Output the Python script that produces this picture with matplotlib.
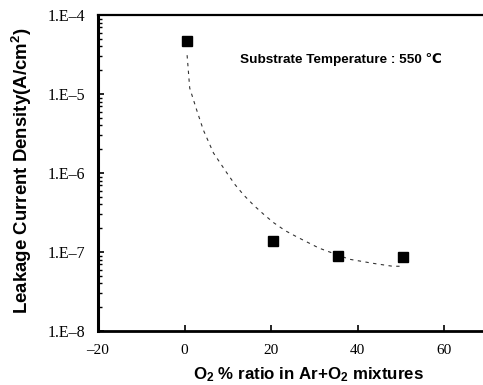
import matplotlib
matplotlib.use("Agg")
import matplotlib.pyplot as plt
from matplotlib.ticker import LogLocator, NullFormatter

# measured points
o2_ratio = [0.5, 20.5, 35.4, 50.5]
leakage = [4.7e-5, 1.38e-7, 8.9e-8, 8.7e-8]

# dashed trend curve
fit_x = [0.6, 1.2, 2.8, 4.35, 6.7, 9.8, 11.7, 13.7, 16.0, 18.3, 20.6, 23.3,
         26.0, 31.1, 38.1, 43.5, 48.1, 50.0]
fit_y = [3.1e-5, 1.19e-5, 6.3e-6, 3.5e-6, 1.79e-6, 1.0e-6, 7.1e-7, 5.25e-7,
         3.9e-7, 3.0e-7, 2.35e-7, 1.86e-7, 1.55e-7, 1.12e-7, 8.1e-8, 7.2e-8,
         6.6e-8, 6.6e-8]

xticks = [-20, 0, 20, 40, 60]
xtick_labels = ['\u201320', '0', '20', '40', '60']
yticks = [1e-8, 1e-7, 1e-6, 1e-5, 1e-4]
ytick_labels = ['1.E\u20138', '1.E\u20137', '1.E\u20136', '1.E\u20135', '1.E\u20134']

plt.rcParams['mathtext.default'] = 'regular'

W, H = 483, 385
fig = plt.figure(figsize=(W / 100, H / 100), dpi=100)
ax = fig.add_axes([98 / W, 54 / H, 385 / W, 316 / H])

ax.plot(fit_x, fit_y, color='#333333', linewidth=0.8, dashes=(3, 4))
ax.plot(o2_ratio, leakage, linestyle='none', marker='s', markersize=7.2,
        color='black')

ax.set_yscale('log')
ax.set_xlim(-20, 69)
ax.set_ylim(1e-8, 1e-4)
ax.set_xticks(xticks)
ax.set_xticklabels(xtick_labels, fontfamily='Liberation Serif', fontsize=11)
ax.set_yticks(yticks)
ax.set_yticklabels(ytick_labels, fontfamily='Liberation Serif', fontsize=11.5)
ax.yaxis.set_minor_locator(LogLocator(base=10, subs=range(2, 10)))
ax.yaxis.set_minor_formatter(NullFormatter())

ax.tick_params(axis='both', which='major', direction='in', length=4,
               width=1.2)
ax.tick_params(axis='x', which='major', pad=9)
ax.tick_params(axis='y', which='major', pad=9)
ax.tick_params(axis='y', which='minor', direction='in', length=3, width=1.0)

ax.spines['right'].set_visible(False)
ax.spines['left'].set_linewidth(2.2)
ax.spines['bottom'].set_linewidth(2.0)
ax.spines['top'].set_linewidth(1.6)

fig.text(308 / W, 1 - 375 / H, 'O$_2$ % ratio in Ar+O$_2$ mixtures',
         fontfamily='Liberation Sans', fontweight='bold', fontsize=12.2,
         ha='center', va='center')
fig.text(22 / W, 1 - 171 / H, 'Leakage Current Density(A/cm$^2$)',
         fontfamily='Liberation Sans', fontweight='bold', fontsize=13.4,
         rotation=90, ha='center', va='center')

fig.text(240 / W, 1 - 60 / H, 'Substrate Temperature : 550 \u2103',
         fontfamily=['Liberation Sans', 'DejaVu Sans'], fontweight='bold',
         fontsize=9.7, va='center', ha='left')

fig.savefig('out.png', dpi=100)
